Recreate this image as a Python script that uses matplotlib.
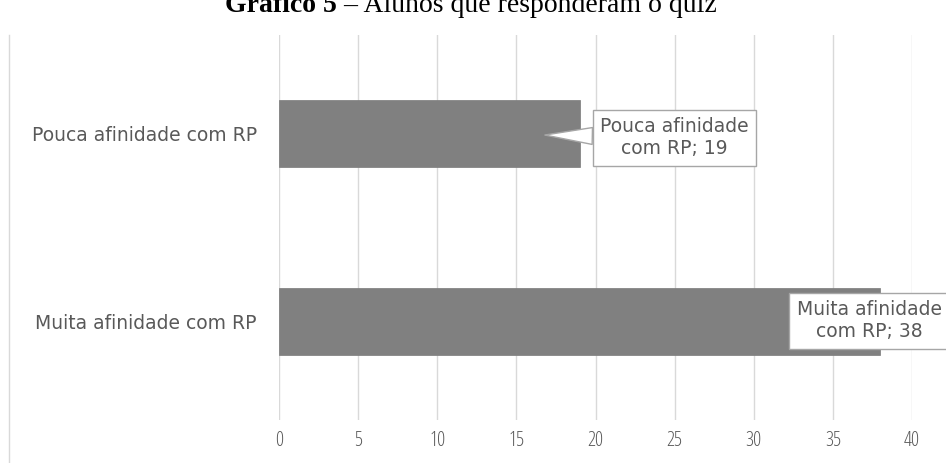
import matplotlib
matplotlib.use("Agg")
import matplotlib.pyplot as plt
from matplotlib.lines import Line2D

categories = ["Muita afinidade com RP", "Pouca afinidade com RP"]
values = [38, 19]
xticks = [0, 5, 10, 15, 20, 25, 30, 35, 40]
title_bold = "Gráfico 5"
title_rest = " – Alunos que responderam o quiz"

W, H = 946, 463
fig = plt.figure(figsize=(W / 100, H / 100), dpi=100)
ax = fig.add_axes([279 / W, 1 - 420 / H, (912 - 279) / W, (420 - 35) / H])

ypos = list(range(len(categories)))
ax.barh(ypos, values, height=0.355, color="#808080", edgecolor="#7a7a7a", linewidth=0.5, zorder=2)
ax.set_xlim(0, 40)
ax.set_ylim(-0.52, 1.52)
ax.set_xticks(xticks)
ax.set_xticklabels([str(t) for t in xticks])
ax.set_yticks(ypos)
ax.set_yticklabels(categories)
ax.grid(axis="x", color="#d9d9d9", linewidth=1, zorder=0)
for s in ax.spines.values():
    s.set_visible(False)
ax.tick_params(axis="both", length=0, colors="#595959")
ax.tick_params(axis="x", labelsize=14.5, pad=8)
ax.tick_params(axis="y", labelsize=13.5, pad=16)
for lbl in ax.get_xticklabels():
    lbl.set_family("Open Sans")
    lbl.set_fontstretch("condensed")
for lbl in ax.get_yticklabels():
    lbl.set_family("DejaVu Sans")

# callouts
bbox = dict(boxstyle="square,pad=0.4", fc="white", ec="#a6a6a6", lw=1)
ax.annotate(f"Pouca afinidade\ncom RP; {values[1]}", xy=(16.8, 0.99), xytext=(25.0, 0.976),
            ha="center", va="center", fontsize=13.5, color="#595959", family="DejaVu Sans",
            bbox=bbox, zorder=5, annotation_clip=False,
            arrowprops=dict(arrowstyle="wedge,tail_width=0.9,shrink_factor=0.5",
                            fc="white", ec="#a6a6a6", lw=1, shrinkA=0, shrinkB=0))
ax.text(37.3, 0.005, f"Muita afinidade\ncom RP; {values[0]}", ha="center", va="center",
        fontsize=13.5, color="#595959", family="DejaVu Sans", bbox=bbox, zorder=5, clip_on=False)

# left border of chart area
fig.add_artist(Line2D([8.5 / W, 8.5 / W], [0, 1 - 35 / H], color="#d9d9d9", lw=1))

# title (partly cut at the top edge as in the reference)
t1 = fig.text(225 / W, 1 - 12 / H, title_bold, fontsize=20, fontweight="bold",
              family="Liberation Serif", va="baseline", ha="left")
fig.canvas.draw()
bb = t1.get_window_extent()
fig.text(bb.x1 / W, 1 - 12 / H, title_rest, fontsize=20, family="Liberation Serif",
         va="baseline", ha="left")

fig.savefig("out.png", dpi=100)
